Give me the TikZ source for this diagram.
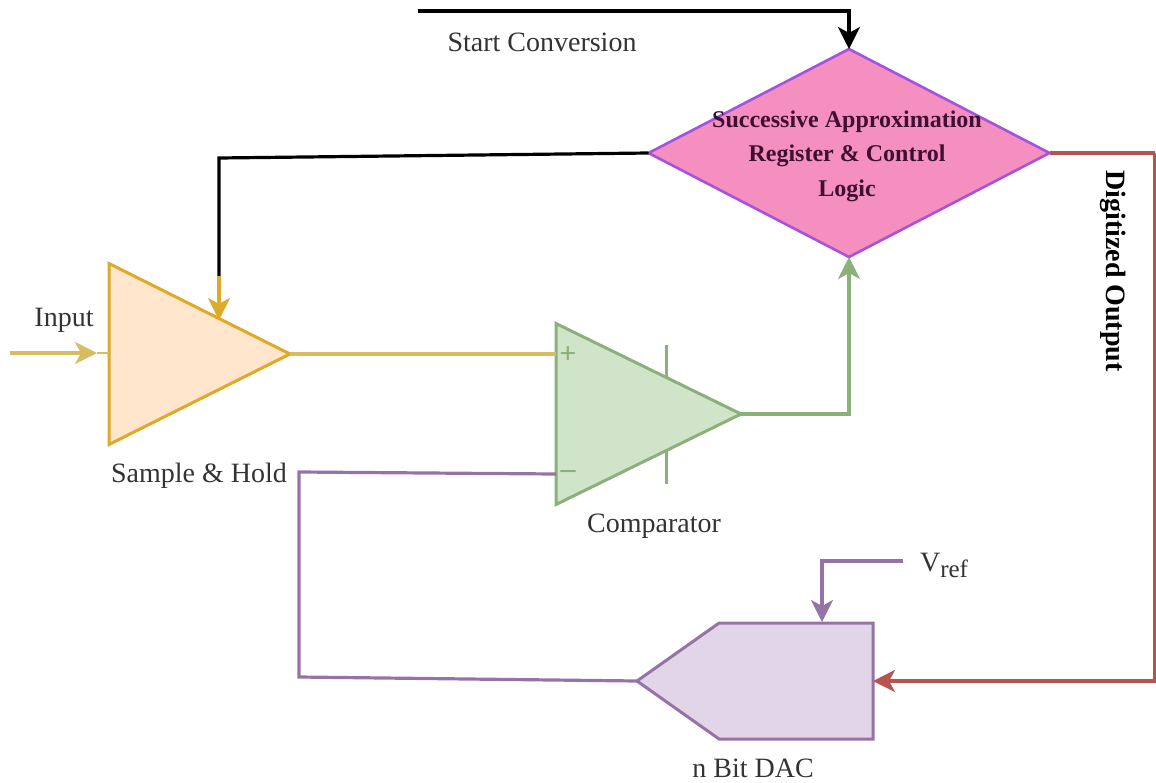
\documentclass[tikz,border=0pt]{standalone}
\usepackage{fontspec}
\setmainfont{Liberation Serif}
\usetikzlibrary{shapes.geometric, shapes.symbols, arrows.meta}
\definecolor{sarfill}{HTML}{F48FBF}
\definecolor{sarline}{HTML}{A552E0}
\definecolor{sartext}{HTML}{3E0F33}
\definecolor{shfill}{HTML}{FFE6CC}
\definecolor{shline}{HTML}{DDAA2A}
\definecolor{shwire}{HTML}{D8BC62}
\definecolor{compfill}{HTML}{D0E4CA}
\definecolor{compline}{HTML}{8BB079}
\definecolor{dacfill}{HTML}{E1D5E7}
\definecolor{dacline}{HTML}{9673A6}
\definecolor{redline}{HTML}{B85450}
\tikzset{
  bigtext/.style={font=\fontsize{14}{17}\selectfont, text=black!80, inner sep=0pt},
  signtext/.style={font=\fontsize{15}{15}\selectfont\bfseries, text=compline, inner sep=0pt},
  sarblock/.style={draw=sarline, fill=sarfill, line width=1.3pt, diamond, aspect=1.92, inner sep=0pt, outer sep=0pt, minimum width=200.5pt, minimum height=104pt},
  ampblock/.style={isosceles triangle, isosceles triangle stretches, shape border rotate=0, line width=1.5pt, inner sep=0pt, outer sep=0pt, minimum width=90.5pt, anchor=apex},
  dacblock/.style={draw=dacline, fill=dacfill, line width=1.5pt, signal, signal to=west, signal pointer angle=70.5, inner sep=0pt, outer sep=0pt, minimum width=118pt, minimum height=58pt, anchor=east},
  wire/.style={line width=#1, -{Stealth[length=11pt, width=11pt, inset=3pt]}},
  plainwire/.style={line width=#1}
}
\begin{document}
\begin{tikzpicture}[x=0.5pt, y=-0.5pt]
        \useasboundingbox (0,0) rectangle (1156,782);

        % Draw the blocks
        \node (sar)  [sarblock] at (849,153) {};
        \node (sartxt) [font=\fontsize{12}{17.25}\selectfont\bfseries, text=sartext, align=center, inner sep=0pt] at (847,156) {Successive Approximation\\Register \& Control\\Logic};
        \node (sample) [ampblock, draw=shline, fill=shfill, minimum height=90.5pt] at (290,354) {};
        \node (comp) [ampblock, draw=compline, fill=compfill, minimum height=92.5pt] at (741,414) {};
        \node (dac)  [dacblock] at (873,681) {};

        % Free ends of the connectors
        \coordinate (startend) at (418,11);
        \coordinate (startcorner) at (849,11);
        \coordinate (holdcorner) at (219,158);
        \coordinate (holdjoin) at (219,276);
        \coordinate (holdtip) at (219,320);
        \coordinate (inputend) at (10,353);
        \coordinate (inputtip) at (97,353);
        \coordinate (inputbase) at (109,353);
        \coordinate (plusin) at (556,354);
        \coordinate (minusin) at (556,474);
        \coordinate (minusbend) at (299,472);
        \coordinate (dacbend) at (299,677);
        \coordinate (refend) at (903,561);
        \coordinate (reftip) at (822,622);
        \coordinate (outcorner) at (1155,153);
        \coordinate (bartopa) at (666,345);
        \coordinate (bartopb) at (666,378);
        \coordinate (barbota) at (666,451);
        \coordinate (barbotb) at (666,484);

        % Draw the connecting lines
        \draw [wire=1.6pt, black] (startend) -- (startcorner) -- (sar.north);
        \draw [plainwire=1.6pt, black] (sar.west) -- (holdcorner) -- (holdjoin);
        \draw [wire=1.6pt, shline] (holdjoin) -- (holdtip);
        \draw [wire=1.6pt, shwire] (inputend) -- (inputtip);
        \draw [plainwire=1pt, shwire] (inputtip) -- (inputbase);
        \draw [plainwire=1.6pt, shwire] (sample.apex) -- (plusin);
        \draw [wire=1.6pt, compline] (comp.apex) -| (sar.south);
        \draw [plainwire=1.6pt, dacline] (dac.west) -- (dacbend) -- (minusbend) -- (minusin);
        \draw [wire=1.6pt, dacline] (refend) -| (reftip);
        \draw [plainwire=1.6pt, redline] (sar.east) -- (outcorner);
        \draw [wire=1.6pt, redline] (outcorner) |- (dac.east);
        \draw [plainwire=1.5pt, compline] (bartopa) -- (bartopb);
        \draw [plainwire=1.5pt, compline] (barbota) -- (barbotb);

        % Add the labels
        \node (plus)  [signtext] at (568,355) {+};
        \node (minus) [signtext] at (568,474) {--};
        \node (start) [bigtext] at (542,42) {Start Conversion};
        \node (input) [bigtext] at (64,320) {Input};
        \node (shtxt) [bigtext] at (199,476) {Sample \& Hold};
        \node (comptxt) [bigtext] at (654,526) {Comparator};
        \node (vref)  [bigtext] at (944,565) {V\raisebox{-3pt}{\fontsize{12.5}{12.5}\selectfont ref}};
        \node (dactxt) [bigtext] at (753,768) {n Bit DAC};
        \node (digout) [bigtext, text=black, font=\fontsize{14}{17}\selectfont\bfseries, rotate=-90] at (1113,271) {Digitized Output};
    \end{tikzpicture}
\end{document}
